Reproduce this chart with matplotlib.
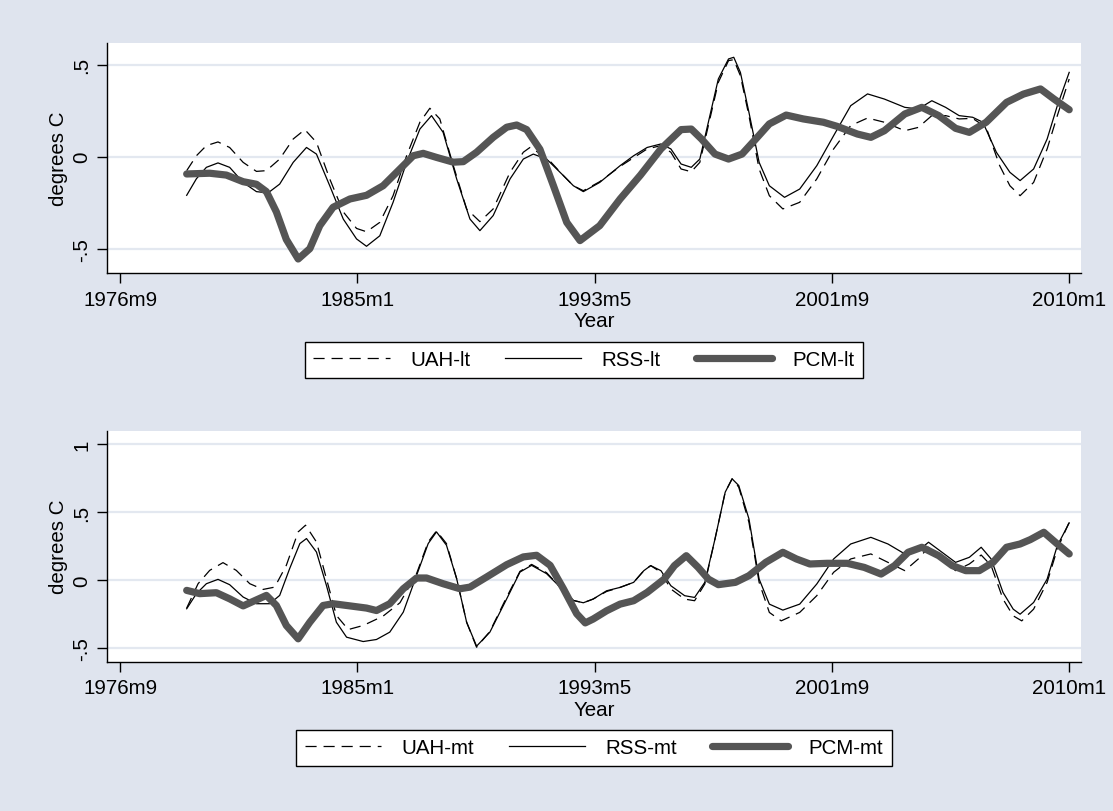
import matplotlib
matplotlib.use("Agg")
import matplotlib.pyplot as plt

plt.rcParams['font.family'] = ['Liberation Sans', 'DejaVu Sans']
plt.rcParams['lines.scale_dashes'] = False

# Monthly dates are Stata %tm numbers (months since 1960m1)
tick_months = [200, 300, 400, 500, 600]
tick_labels = ["1976m9", "1985m1", "1993m5", "2001m9", "2010m1"]

# ---------- lower troposphere ----------
uah_lt_m = [228, 232.1, 236.3, 241.2, 246.1, 251.8, 257.4, 261.6, 267.2, 272.9, 277.8, 282.7,
            288.3, 294.0, 299.6, 303.8, 309.4, 315.0, 320.7, 326.3, 330.5, 334.7, 340.4, 346.0,
            351.6, 357.2, 364.3, 369.9, 372.7, 379.7, 386.8, 391.0, 395.2, 402.1, 410.7, 422.1,
            427.9, 432.1, 436.4, 440.7, 444.3, 447.9, 452.1, 456.4, 458.6, 461.4, 465.0, 469.3,
            473.6, 479.3, 486.4, 493.6, 500.7, 507.9, 515.0, 522.1, 530.7, 536.4, 542.1, 547.9,
            553.6, 559.3, 565.0, 570.7, 575.0, 579.3, 585.0, 590.7, 595.0, 600]
uah_lt_v = [-0.076, 0.005, 0.06, 0.08, 0.05, -0.031, -0.08, -0.076, -0.013, 0.096, 0.147, 0.078,
            -0.121, -0.30, -0.39, -0.408, -0.357, -0.212, 0.005, 0.187, 0.263, 0.205, -0.049, -0.284,
            -0.353, -0.284, -0.085, 0.024, 0.05, -0.004, -0.103, -0.158, -0.185, -0.136, -0.053, 0.042,
            0.06, 0.024, -0.067, -0.082, -0.031, 0.169, 0.404, 0.522, 0.527, 0.44, 0.223, -0.067,
            -0.212, -0.284, -0.248, -0.121, 0.042, 0.169, 0.21, 0.187, 0.141, 0.159, 0.223, 0.223,
            0.205, 0.208, 0.159, -0.049, -0.158, -0.212, -0.14, 0.042, 0.223, 0.422]

rss_lt_m = [228, 232.1, 236.3, 241.2, 246.1, 251.8, 257.4, 262.3, 267.2, 272.9, 278.5, 282.7,
            288.3, 294.0, 299.6, 303.8, 309.4, 315.0, 320.7, 326.3, 331.2, 336.1, 341.8, 347.4,
            351.6, 357.2, 364.3, 369.9, 374.1, 379.7, 386.8, 391.0, 395.2, 402.1, 410.7, 416.4,
            422.1, 427.9, 432.1, 436.4, 440.7, 444.3, 447.9, 452.1, 456.4, 458.6, 461.4, 465.0,
            469.3, 473.6, 480.0, 486.4, 493.6, 500.7, 507.9, 515.0, 522.1, 530.7, 536.4, 542.1,
            547.9, 553.6, 559.3, 563.6, 569.3, 575.0, 579.3, 585.0, 590.7, 595.0, 600]
rss_lt_v = [-0.21, -0.12, -0.058, -0.034, -0.058, -0.14, -0.19, -0.197, -0.149, -0.031, 0.05, 0.014,
            -0.158, -0.339, -0.447, -0.487, -0.43, -0.248, -0.031, 0.15, 0.223, 0.132, -0.121, -0.339,
            -0.402, -0.32, -0.121, -0.013, 0.014, -0.013, -0.103, -0.158, -0.19, -0.14, -0.049, 0.005,
            0.05, 0.069, 0.042, -0.04, -0.058, -0.013, 0.187, 0.422, 0.531, 0.54, 0.458, 0.241,
            -0.031, -0.158, -0.221, -0.176, -0.049, 0.114, 0.277, 0.341, 0.313, 0.268, 0.259, 0.304,
            0.268, 0.223, 0.214, 0.187, 0.024, -0.085, -0.13, -0.067, 0.096, 0.277, 0.458]

pcm_lt_m = [228, 237.7, 244.7, 251.8, 257.4, 261.6, 265.8, 270.0, 275.0, 279.9, 284.1, 289.7,
            296.8, 303.8, 310.8, 317.9, 323.5, 327.7, 333.3, 340.4, 344.6, 350.2, 357.2, 362.9,
            367.1, 371.3, 376.9, 382.6, 388.2, 393.8, 402.1, 410.7, 419.3, 427.9, 436.4, 440.7,
            445.0, 450.7, 456.4, 462.1, 467.9, 473.6, 480.7, 487.9, 496.4, 502.1, 510.7, 516.4,
            522.1, 530.7, 537.9, 545.0, 552.1, 557.9, 565.0, 573.6, 580.7, 587.9, 593.6, 600]
pcm_lt_v = [-0.094, -0.09, -0.10, -0.136, -0.15, -0.19, -0.30, -0.45, -0.556, -0.50, -0.375, -0.275,
            -0.23, -0.21, -0.158, -0.067, 0.005, 0.018, -0.004, -0.03, -0.027, 0.024, 0.105, 0.16,
            0.172, 0.147, 0.04, -0.158, -0.357, -0.456, -0.375, -0.23, -0.10, 0.042, 0.147, 0.15,
            0.096, 0.014, -0.013, 0.014, 0.096, 0.178, 0.226, 0.205, 0.187, 0.165, 0.123, 0.105,
            0.141, 0.232, 0.268, 0.223, 0.154, 0.132, 0.187, 0.295, 0.34, 0.368, 0.313, 0.255]

# ---------- mid troposphere ----------
uah_mt_m = [228, 232.8, 237.7, 243.3, 248.9, 254.6, 260.2, 265.1, 270.0, 275.0, 278.1, 282.7,
            286.9, 291.1, 296.1, 302.4, 310.8, 317.9, 324.9, 329.8, 333.3, 337.5, 341.8, 346.0,
            350.2, 355.8, 362.9, 368.5, 373.4, 379.7, 385.4, 391.0, 395.2, 399.3, 405.0, 410.7,
            416.4, 420.7, 423.6, 427.9, 432.1, 437.9, 442.1, 446.4, 450.7, 455.0, 457.9, 460.7,
            465.0, 469.3, 473.6, 478.6, 486.4, 493.6, 500.7, 507.9, 516.4, 523.6, 530.7, 536.4,
            540.7, 546.4, 552.1, 557.9, 562.9, 567.1, 572.1, 576.4, 580.0, 585.0, 590.7, 595.0, 600]
uah_mt_v = [-0.206, -0.027, 0.071, 0.128, 0.071, -0.027, -0.069, -0.052, 0.108, 0.354, 0.403, 0.28,
            0.01, -0.26, -0.364, -0.334, -0.265, -0.167, 0.047, 0.28, 0.361, 0.268, 0.01, -0.31,
            -0.494, -0.378, -0.125, 0.064, 0.115, 0.054, -0.052, -0.15, -0.167, -0.14, -0.084, -0.054,
            -0.017, 0.069, 0.106, 0.057, -0.066, -0.14, -0.152, -0.029, 0.302, 0.646, 0.744, 0.683,
            0.425, -0.017, -0.238, -0.30, -0.238, -0.115, 0.057, 0.155, 0.192, 0.13, 0.069, 0.155,
            0.241, 0.155, 0.069, 0.118, 0.184, 0.106, -0.14, -0.263, -0.30, -0.214, -0.017, 0.229, 0.425]

rss_mt_m = [228, 232.1, 236.3, 241.2, 246.1, 251.8, 257.4, 263.0, 267.2, 271.4, 275.7, 278.5,
            282.7, 286.9, 291.1, 295.4, 302.4, 308.0, 313.6, 319.3, 324.9, 329.8, 333.3, 337.5,
            341.8, 346.0, 350.2, 355.8, 362.9, 368.5, 373.4, 379.7, 385.4, 391.0, 395.2, 399.3,
            405.0, 410.7, 416.4, 420.7, 423.6, 427.9, 432.1, 437.9, 442.1, 446.4, 450.7, 455.0,
            457.9, 460.7, 465.0, 469.3, 473.6, 479.3, 486.4, 493.6, 500.7, 507.9, 516.4, 523.6,
            530.7, 536.4, 540.7, 546.4, 552.1, 557.9, 562.9, 567.1, 572.1, 576.4, 579.3, 585.0,
            590.7, 595.0, 600]
rss_mt_v = [-0.211, -0.10, -0.027, 0.005, -0.034, -0.125, -0.174, -0.174, -0.113, 0.084, 0.268, 0.305,
            0.206, -0.039, -0.31, -0.42, -0.452, -0.437, -0.383, -0.236, 0.034, 0.268, 0.354, 0.256,
            0.01, -0.31, -0.486, -0.383, -0.138, 0.059, 0.108, 0.047, -0.052, -0.15, -0.167, -0.14,
            -0.079, -0.054, -0.017, 0.069, 0.106, 0.069, -0.042, -0.115, -0.128, -0.017, 0.302, 0.646,
            0.744, 0.695, 0.45, 0.007, -0.177, -0.221, -0.177, -0.029, 0.155, 0.265, 0.314, 0.265,
            0.192, 0.216, 0.278, 0.204, 0.13, 0.167, 0.241, 0.155, -0.091, -0.214, -0.251, -0.165,
            0.007, 0.253, 0.42]

pcm_mt_m = [228, 233.5, 240.5, 246.1, 251.8, 256.0, 261.6, 265.8, 270.0, 275.0, 279.9, 285.5,
            289.7, 296.8, 303.8, 308.0, 313.6, 319.3, 324.9, 329.1, 336.1, 343.2, 347.4, 354.4,
            362.9, 369.9, 375.5, 381.2, 386.8, 392.4, 396.0, 399.3, 405.0, 410.7, 416.4, 422.1,
            429.3, 433.6, 438.6, 443.6, 447.9, 452.1, 459.3, 465.0, 472.1, 479.3, 485.0, 490.7,
            497.9, 506.4, 513.6, 520.7, 526.4, 532.1, 537.9, 545.0, 550.7, 556.4, 562.1, 567.9,
            573.6, 579.3, 583.6, 589.3, 595.0, 600]
pcm_mt_v = [-0.076, -0.10, -0.093, -0.138, -0.19, -0.157, -0.113, -0.187, -0.334, -0.432, -0.31, -0.187,
            -0.174, -0.19, -0.206, -0.224, -0.174, -0.064, 0.015, 0.015, -0.027, -0.064, -0.052, 0.022,
            0.113, 0.17, 0.182, 0.108, -0.064, -0.248, -0.315, -0.287, -0.226, -0.177, -0.152, -0.091,
            0.007, 0.106, 0.179, 0.093, 0.007, -0.034, -0.017, 0.032, 0.13, 0.204, 0.155, 0.118,
            0.123, 0.123, 0.093, 0.044, 0.106, 0.204, 0.241, 0.179, 0.106, 0.069, 0.069, 0.13,
            0.241, 0.265, 0.297, 0.351, 0.265, 0.192]

BG = "#DFE4EE"
GRID = "#E3E8F0"
THICK = "#555555"
FS = 14.8

fig = plt.figure(figsize=(11.13, 8.12), dpi=100, facecolor=BG)


def style_axes(ax, ylim, yticks, ylabels):
    ax.set_facecolor("white")
    ax.set_xlim(194.3, 605.0)
    ax.set_ylim(*ylim)
    ax.set_xticks(tick_months)
    ax.set_xticklabels(tick_labels, fontsize=FS)
    ax.set_yticks(yticks)
    ax.set_yticklabels(ylabels, fontsize=FS, rotation=90, va="center")
    ax.tick_params(axis="both", direction="out", length=7, width=1, color="black")
    ax.tick_params(axis="x", pad=5)
    ax.tick_params(axis="y", pad=4)
    for s in ("top", "right"):
        ax.spines[s].set_visible(False)
    for s in ("left", "bottom"):
        ax.spines[s].set_linewidth(1.0)
    ax.grid(axis="y", color=GRID, linewidth=1.6)
    ax.set_axisbelow(True)
    ax.set_ylabel("degrees C", fontsize=FS)
    ax.yaxis.label.set_verticalalignment("center")
    ax.yaxis.set_label_coords(-0.0497, 0.5)
    ax.set_xlabel("Year", fontsize=FS)
    ax.xaxis.label.set_verticalalignment("center")
    ax.xaxis.set_label_coords(0.5, -0.205)


def draw_panel(ax, series, legend_anchor):
    (um, uv, ul), (rm, rv, rl), (pm, pv, pl) = series
    h1, = ax.plot(um, uv, color="black", linewidth=0.9, linestyle=(0, (8, 5)), label=ul)
    h2, = ax.plot(rm, rv, color="black", linewidth=0.9, label=rl)
    h3, = ax.plot(pm, pv, color=THICK, linewidth=5.2, solid_capstyle="round",
                  solid_joinstyle="round", label=pl)
    leg = fig.legend(handles=[h1, h2, h3], loc="center", bbox_to_anchor=legend_anchor, ncol=3,
                     fontsize=FS, frameon=True, fancybox=False, edgecolor="black",
                     facecolor="white", framealpha=1, handlelength=3.7, handletextpad=1.0,
                     columnspacing=1.7, borderpad=0.4, borderaxespad=0)
    leg.get_frame().set_linewidth(1.0)


ax1 = fig.add_axes([0.0959, 0.6626, 0.8754, 0.2833])
style_axes(ax1, (-0.632, 0.618), [-0.5, 0, 0.5], ["-.5", "0", ".5"])
draw_panel(ax1, [(uah_lt_m, uah_lt_v, "UAH-lt"), (rss_lt_m, rss_lt_v, "RSS-lt"),
                 (pcm_lt_m, pcm_lt_v, "PCM-lt")], (584 / 1113, 1 - 361 / 812))

ax2 = fig.add_axes([0.0959, 0.1839, 0.8754, 0.2845])
style_axes(ax2, (-0.60, 1.098), [-0.5, 0, 0.5, 1], ["-.5", "0", ".5", "1"])
draw_panel(ax2, [(uah_mt_m, uah_mt_v, "UAH-mt"), (rss_mt_m, rss_mt_v, "RSS-mt"),
                 (pcm_mt_m, pcm_mt_v, "PCM-mt")], (594 / 1113, 1 - 749 / 812))

fig.savefig("out.png", dpi=100, facecolor=BG)
